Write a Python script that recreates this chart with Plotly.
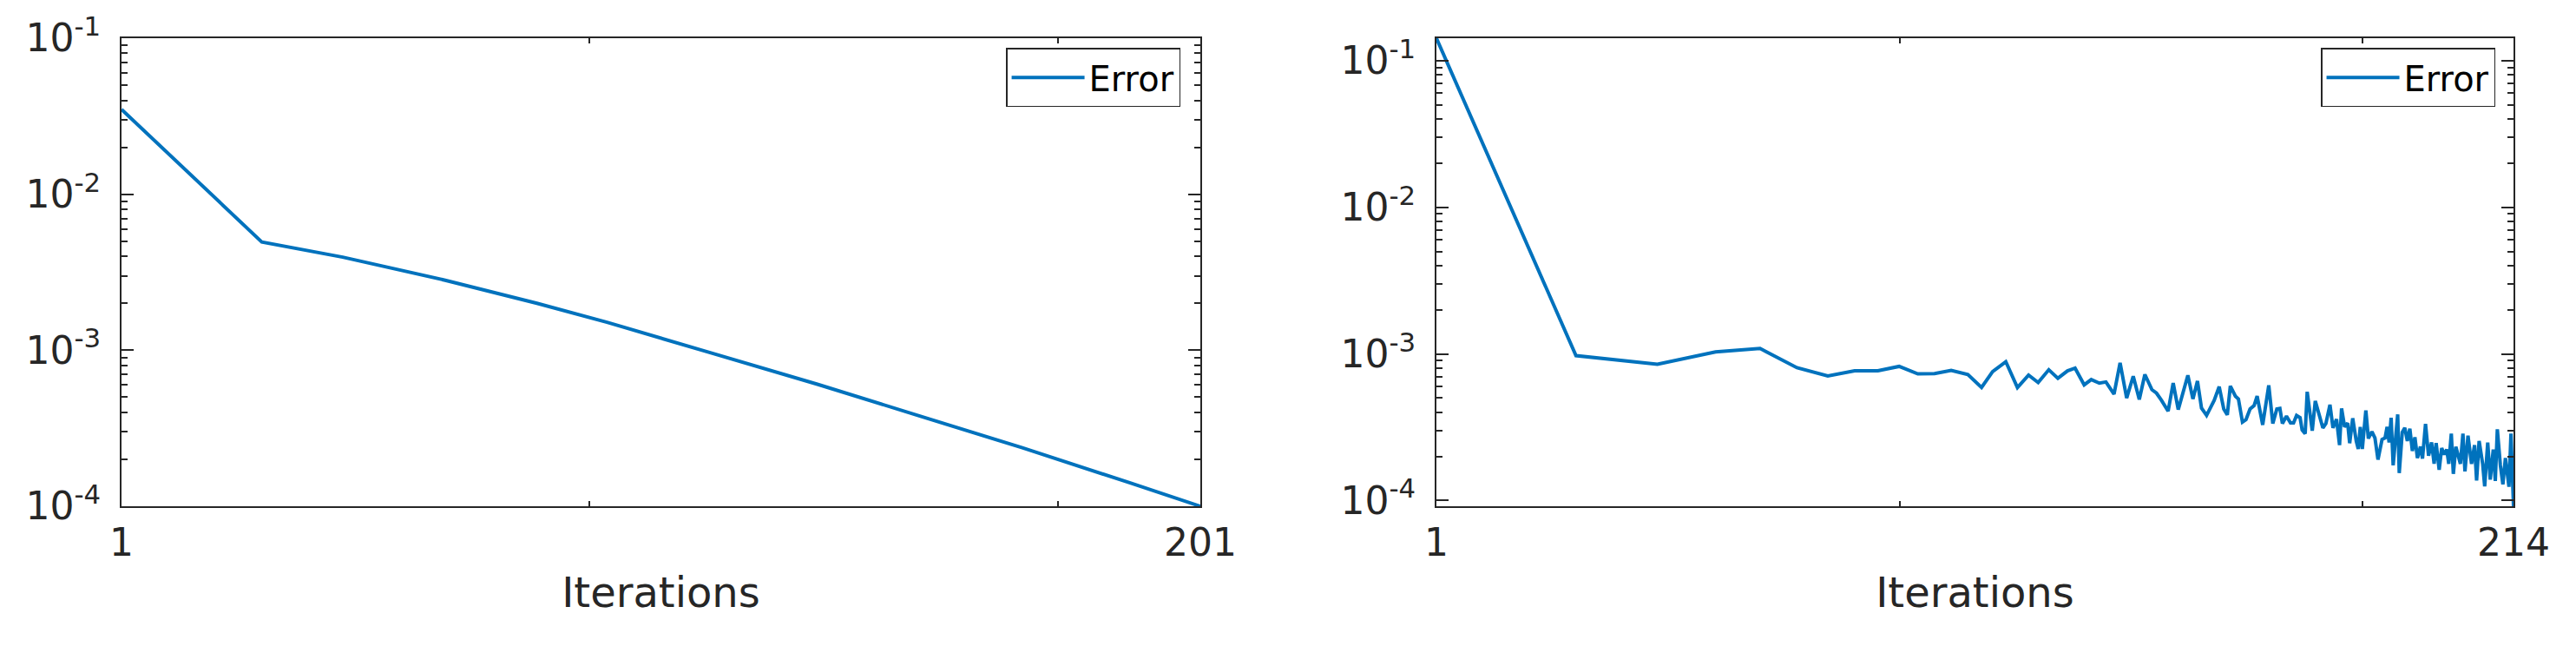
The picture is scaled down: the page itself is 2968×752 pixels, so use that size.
import math
import plotly.graph_objects as go
from plotly.subplots import make_subplots

# left run: error per iteration
left_iter = [1, 27, 42, 61, 78, 91, 110, 130, 149, 168, 188, 201]
left_err = [3.5e-2, 4.94e-3, 3.95e-3, 2.81e-3, 2.00e-3, 1.51e-3, 9.68e-4,
            6.05e-4, 3.79e-4, 2.37e-4, 1.41e-4, 1.0e-4]

# right run: noisy tail
right_iter = [1, 28.6, 44.7, 56.2, 65.0, 72.3, 78.4, 83.7, 88.3, 92.5, 96.2, 99.5,
              102.8, 106.1, 108.8, 111.0, 113.6, 115.9, 118.1, 120.0, 122.1, 123.9,
              125.8, 127.3, 129.1, 130.5, 132.1, 133.4, 135.0, 136.2, 137.5, 138.8,
              140.0, 141.1, 142.5, 143.4, 144.4, 145.7, 146.7, 147.7, 149.6, 150.6,
              151.5, 152.3, 153.3, 154.8, 155.8, 156.7, 157.4, 158.0, 159.0, 159.6,
              160.4, 161.1, 161.9, 162.7, 163.3, 164.4, 165.6, 166.4, 167.2, 167.8,
              168.3, 169.1, 169.9, 170.5, 171.1, 171.8, 172.2, 172.8, 173.2, 174.2,
              174.8, 175.6, 176.3, 176.9, 177.7, 178.3, 179.0, 179.6, 180.0, 180.6,
              181.2, 181.6, 182.2, 182.9, 183.3, 183.7, 184.1, 184.8, 185.3, 186.0,
              186.6, 187.2, 188.0, 188.6, 189.0, 189.4, 189.8, 190.2, 191.1, 191.4,
              192.0, 192.5, 193.0, 193.5, 194.0, 194.5, 195.0, 195.6, 196.0, 196.6,
              197.2, 197.8, 198.3, 198.7, 199.3, 199.8, 200.3, 200.8, 201.2, 201.7,
              202.1, 202.6, 203.2, 203.5, 204.0, 204.4, 205.0, 205.7, 206.3, 206.7,
              207.2, 207.9, 208.3, 208.9, 209.4, 210.0, 210.4, 210.8, 211.4, 211.9,
              212.4, 213.1, 213.5, 214.0]
right_err = [1.424e-1, 9.73e-4, 8.49e-4, 1.033e-3, 1.089e-3, 8.05e-4, 7.08e-4, 7.67e-4,
             7.67e-4, 8.22e-4, 7.31e-4, 7.35e-4, 7.73e-4, 7.24e-4, 5.90e-4, 7.59e-4,
             8.85e-4, 5.90e-4, 7.18e-4, 6.38e-4, 7.80e-4, 6.82e-4, 7.66e-4, 8.00e-4,
             6.15e-4, 6.68e-4, 6.32e-4, 6.44e-4, 5.32e-4, 8.69e-4, 5.00e-4, 7.05e-4,
             4.89e-4, 7.24e-4, 5.70e-4, 5.40e-4, 4.82e-4, 4.07e-4, 6.32e-4, 4.17e-4,
             7.14e-4, 4.93e-4, 6.53e-4, 4.27e-4, 3.81e-4, 4.82e-4, 5.98e-4, 4.21e-4,
             3.84e-4, 6.04e-4, 5.15e-4, 4.93e-4, 3.43e-4, 3.56e-4, 4.21e-4, 4.44e-4,
             5.15e-4, 3.28e-4, 6.10e-4, 3.35e-4, 4.21e-4, 4.25e-4, 3.35e-4, 3.76e-4,
             3.38e-4, 3.38e-4, 3.80e-4, 3.67e-4, 3.03e-4, 2.86e-4, 5.52e-4, 2.99e-4,
             4.78e-4, 3.76e-4, 3.13e-4, 3.35e-4, 4.50e-4, 3.13e-4, 3.59e-4, 2.39e-4,
             4.25e-4, 3.18e-4, 3.38e-4, 2.46e-4, 3.64e-4, 2.55e-4, 2.25e-4, 3.18e-4,
             2.25e-4, 4.11e-4, 2.65e-4, 2.95e-4, 2.67e-4, 1.90e-4, 2.61e-4, 2.67e-4,
             3.18e-4, 2.49e-4, 3.67e-4, 1.74e-4, 3.87e-4, 1.54e-4, 2.92e-4, 3.13e-4,
             2.55e-4, 3.09e-4, 2.18e-4, 2.70e-4, 1.95e-4, 2.33e-4, 1.93e-4, 3.33e-4,
             2.02e-4, 2.49e-4, 1.78e-4, 2.47e-4, 1.62e-4, 2.28e-4, 2.06e-4, 2.23e-4,
             1.78e-4, 2.86e-4, 1.52e-4, 2.33e-4, 1.95e-4, 1.78e-4, 2.86e-4, 1.58e-4,
             2.77e-4, 1.78e-4, 2.39e-4, 1.37e-4, 2.55e-4, 1.78e-4, 1.25e-4, 2.49e-4,
             1.39e-4, 2.23e-4, 1.36e-4, 3.06e-4, 1.74e-4, 1.29e-4, 1.95e-4, 1.24e-4,
             2.86e-4, 9.14e-5]

# labelled ends + unlabelled inner ticks
left_xticks = [1, 201]
left_xinner = [87.7, 174.6]
right_xticks = [1, 214]
right_xinner = [92.6, 184.1]
y_ticks = [1e-4, 1e-3, 1e-2, 1e-1]
y_labels = ["10<sup>-4</sup>", "10<sup>-3</sup>", "10<sup>-2</sup>", "10<sup>-1</sup>"]

LINE_BLUE = "#0072BD"
AX = "#262626"
minor_vals = [k * 10.0 ** e for e in (-5, -4, -3, -2, -1) for k in range(2, 10)]

fig = make_subplots(rows=1, cols=2)

fig.add_trace(go.Scatter(x=left_iter, y=left_err, mode="lines", name="Error",
                         line=dict(color=LINE_BLUE, width=4), legend="legend"),
              row=1, col=1)
fig.add_trace(go.Scatter(x=right_iter, y=right_err, mode="lines", name="Error",
                         line=dict(color=LINE_BLUE, width=4), legend="legend2"),
              row=1, col=2)

xcommon = dict(showgrid=False, zeroline=False, showline=True, linecolor=AX, linewidth=2,
               mirror="ticks", ticks="inside", ticklen=6, tickwidth=1.5, tickcolor=AX,
               tickfont=dict(size=44, color=AX), ticklabelstandoff=2,
               title=dict(text="Iterations", font=dict(size=48, color=AX), standoff=17))
ycommon = dict(type="log", showgrid=False, zeroline=False, showline=True, linecolor=AX,
               linewidth=2, mirror="ticks", ticks="inside", ticklen=14, tickwidth=1.5,
               tickcolor=AX, tickmode="array", tickvals=y_ticks, ticktext=y_labels,
               tickfont=dict(size=44, color=AX), ticklabelstandoff=13,
               minor=dict(ticks="inside", ticklen=7, tickwidth=1.5, tickcolor=AX,
                          tickvals=minor_vals))

fig.update_xaxes(xcommon)
fig.update_yaxes(ycommon)
fig.update_xaxes(range=[1, 201], tickvals=left_xticks, ticktext=[str(v) for v in left_xticks],
                 minor=dict(tickvals=left_xinner, ticks="inside", ticklen=6, tickwidth=1.5,
                            tickcolor=AX),
                 domain=[0, 0.45102], row=1, col=1)
fig.update_xaxes(range=[1, 214], tickvals=right_xticks, ticktext=[str(v) for v in right_xticks],
                 minor=dict(tickvals=right_xinner, ticks="inside", ticklen=6, tickwidth=1.5,
                            tickcolor=AX),
                 domain=[0.54971, 1], row=1, col=2)

fig.update_yaxes(range=[-4, -1], row=1, col=1)
fig.update_yaxes(range=[math.log10(min(right_err)), math.log10(max(right_err))], row=1, col=2)

legend_style = dict(yanchor="top", xanchor="right", y=0.979, bgcolor="white",
                    bordercolor=AX, borderwidth=1.5, itemwidth=84,
                    font=dict(size=40, color="black"))
fig.update_layout(
    width=2968, height=752,
    margin=dict(l=140, r=72, t=42, b=169),
    font=dict(family="DejaVu Sans", color=AX),
    plot_bgcolor="white", paper_bgcolor="white",
    showlegend=True,
    legend=dict(legend_style, x=0.4427),
    legend2=dict(legend_style, x=0.9924),
)

# page body has an 8px default margin; drop it so the figure sits at the window origin
fig.write_html("out.html", config={"displayModeBar": False},
               post_script="document.body.style.margin='0';")
